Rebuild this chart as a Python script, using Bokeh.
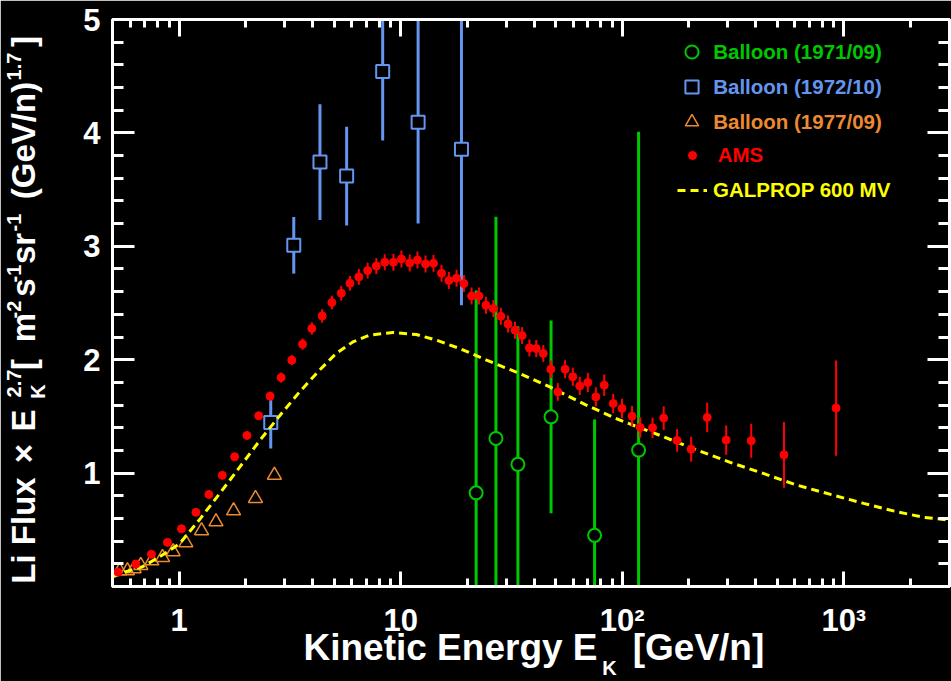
import numpy as np
from bokeh.plotting import figure
from bokeh.models import (Range1d, LogAxis, LinearAxis, FixedTicker, LinearScale,
                          Legend, LegendItem)
from bokeh.embed import file_html
from bokeh.resources import INLINE

# ---------------- data ----------------
ams_e = [0.53, 0.637, 0.749, 0.885, 1.024, 1.19, 1.362, 1.565, 1.779, 2.023,
         2.285, 2.572, 2.884, 3.223, 3.603, 3.97, 4.42, 4.89, 5.39, 5.90,
         6.47, 7.09, 7.76, 8.47, 9.27, 10.07, 10.98, 11.9, 12.94, 14.06,
         15.28, 16.49, 17.86, 19.28, 20.89, 22.54, 24.25, 26.2, 28.3, 30.5,
         32.8, 35.3, 38.1, 40.9, 44.0, 47.6, 51.2, 55.2, 59.8, 64.3,
         69.9, 76.0, 82.9, 91.0, 99.7, 110.7, 120.5, 137, 153.8, 176.8,
         204.6, 241.7, 294.5, 382, 537, 923]
ams_v = [0.126, 0.198, 0.284, 0.389, 0.509, 0.654, 0.812, 0.980, 1.144, 1.332,
         1.505, 1.678, 1.843, 1.996, 2.137, 2.275, 2.386, 2.504, 2.586, 2.674,
         2.730, 2.786, 2.826, 2.859, 2.859, 2.888, 2.853, 2.879, 2.844, 2.850,
         2.762, 2.698, 2.718, 2.671, 2.562, 2.562, 2.480, 2.451, 2.383, 2.315,
         2.260, 2.213, 2.104, 2.098, 2.055, 1.916, 1.716, 1.916, 1.849, 1.769,
         1.799, 1.672, 1.775, 1.614, 1.570, 1.502, 1.403, 1.399, 1.485, 1.288,
         1.211, 1.491, 1.291, 1.285, 1.161, 1.573]
ams_err = [0.010, 0.012, 0.015, 0.015, 0.018, 0.020, 0.022, 0.025, 0.028, 0.030,
           0.035, 0.040, 0.045, 0.045, 0.050, 0.055, 0.060, 0.060, 0.065, 0.065,
           0.070, 0.070, 0.070, 0.070, 0.075, 0.075, 0.075, 0.075, 0.075, 0.075,
           0.075, 0.075, 0.075, 0.075, 0.075, 0.075, 0.075, 0.075, 0.075, 0.075,
           0.075, 0.075, 0.075, 0.075, 0.075, 0.078, 0.078, 0.080, 0.080, 0.080,
           0.085, 0.085, 0.095, 0.085, 0.085, 0.090, 0.090, 0.090, 0.105, 0.100,
           0.110, 0.130, 0.130, 0.150, 0.290, 0.420]

b71_e = [21.9, 26.9, 33.8, 47.7, 75.0, 118.5]
b71_v = [0.826, 1.306, 1.077, 1.496, 0.451, 1.203]
b71_err = [1.784, 1.954, 1.218, 0.850, 1.022, 2.807]

b72_e = [2.59, 3.29, 4.32, 5.70, 8.29, 11.98, 18.8]
b72_v = [1.447, 3.009, 3.743, 3.619, 4.542, 4.095, 3.855]
b72_err = [0.23, 0.25, 0.51, 0.436, 0.608, 0.895, 1.375]

b77_e = [0.539, 0.584, 0.626, 0.671, 0.752, 0.841, 0.939, 1.072, 1.262, 1.466,
         1.76, 2.21, 2.69]
b77_v = [0.139, 0.139, 0.157, 0.186, 0.227, 0.257, 0.307, 0.386, 0.492, 0.571,
         0.668, 0.777, 0.982]

gal_e = [0.5, 0.574, 0.683, 0.812, 1.0, 1.231, 1.516, 1.868, 2.299, 2.831,
         3.486, 4.293, 5.11, 6.08, 7.23, 9.23, 11.78, 14.5, 18.45, 24.4,
         34.5, 47.1, 68.8, 97.6, 153.8, 217.7, 307, 433, 614, 871,
         1228, 1738, 2300, 3000]
gal_v = [0.084, 0.130, 0.174, 0.260, 0.374, 0.586, 0.815, 1.048, 1.282, 1.502,
         1.714, 1.907, 2.055, 2.157, 2.216, 2.240, 2.222, 2.172, 2.099, 1.996,
         1.878, 1.760, 1.599, 1.467, 1.320, 1.203, 1.094, 0.997, 0.894, 0.812,
         0.733, 0.659, 0.610, 0.586]

x_major = [1, 10, 100, 1000]
x_labels = ["1", "10", "10\u00b2", "10\u00b3"]
y_major = [1, 2, 3, 4, 5]

legend_labels = ["Balloon (1971/09)", "Balloon (1972/10)", "Balloon (1977/09)",
                 "AMS", "GALPROP 600 MV"]

# axis-title pieces: (text, centre position in px along the frame edge)
ytitle_main = [("Li Flux", 56), ("\u00d7", 133), ("E", 166), ("[", 222),
               ("m", 259), ("s", 299), ("sr", 338), ("(GeV/n)", 446), ("]", 545)]
ytitle_sup = [("2.7", 203), ("-2", 277), ("-1", 313), ("-1", 364), ("1.7", 520)]
ytitle_sub = [("K", 195)]
xtitle_main = [("Kinetic Energy E", 338), ("[GeV/n]", 586)]
xtitle_sub = [("K", 497)]

# ---------------- styling ----------------
FONT = "Liberation Sans"
GREEN = "#00c800"
BLUE = "#6496f0"
ORANGE = "#eb8a32"
RED = "#ff0000"
YELLOW = "#ffff00"

p = figure(width=951, height=681, x_axis_type="log",
           x_range=Range1d(0.5, 3000), y_range=Range1d(0, 5),
           output_backend="svg", toolbar_location=None,
           min_border_left=112, min_border_right=2, min_border_top=19,
           min_border_bottom=95,
           background_fill_color="black", border_fill_color="black",
           outline_line_color="white", outline_line_width=3)
p.grid.visible = False
p.extra_y_ranges = {"lab": Range1d(0, 567)}
p.extra_x_ranges = {"labx": Range1d(0, 837)}
p.extra_x_scales = {"labx": LinearScale()}

x_minor = [m * 10.0 ** k for k in range(-1, 4) for m in range(2, 10)
           if 0.5 <= m * 10.0 ** k <= 3000]
y_minor = [round(0.2 * i, 1) for i in range(1, 25) if i % 5 != 0]


def style_axis(ax, major_in, minor_in, labels):
    ax.axis_line_color = "white"
    ax.axis_line_width = 3
    ax.major_tick_line_color = "white"
    ax.major_tick_line_width = 3
    ax.minor_tick_line_color = "white"
    ax.minor_tick_line_width = 3
    ax.major_tick_in = major_in
    ax.major_tick_out = 0
    ax.minor_tick_in = minor_in
    ax.minor_tick_out = 0
    if labels:
        ax.major_label_text_color = "white"
        ax.major_label_text_font = FONT
        ax.major_label_text_font_style = "bold"
        ax.major_label_text_font_size = "31px"
    else:
        ax.major_label_text_font_size = "1px"
        ax.major_label_text_alpha = 0
        ax.major_label_standoff = 0


xb = p.xaxis[0]
xb.ticker = FixedTicker(ticks=x_major, minor_ticks=x_minor)
xb.major_label_overrides = dict(zip(x_major, x_labels))
style_axis(xb, 15, 8, True)
xb.major_label_standoff = 16

yl = p.yaxis[0]
yl.ticker = FixedTicker(ticks=y_major, minor_ticks=y_minor)
style_axis(yl, 22, 11, True)
yl.major_label_standoff = 12

xt = LogAxis(ticker=FixedTicker(ticks=x_major, minor_ticks=x_minor))
style_axis(xt, 17, 8, False)
p.add_layout(xt, "above")

yr = LinearAxis(ticker=FixedTicker(ticks=y_major, minor_ticks=y_minor))
style_axis(yr, 22, 11, False)
p.add_layout(yr, "right")


# axis titles: label-only axes (tick labels = text pieces, no lines/ticks)
def title_axis(pieces, side, size, standoff, style="bold"):
    pos = [c for _, c in pieces]
    kw = dict(ticker=FixedTicker(ticks=pos, minor_ticks=[]),
              major_label_overrides={c: t for t, c in pieces})
    if side == "left":
        ax = LinearAxis(y_range_name="lab", major_label_orientation="parallel", **kw)
    else:
        ax = LinearAxis(x_range_name="labx", major_label_orientation="horizontal", **kw)
    ax.axis_line_color = None
    ax.major_tick_line_color = None
    ax.minor_tick_line_color = None
    ax.major_tick_in = ax.major_tick_out = 0
    ax.minor_tick_in = ax.minor_tick_out = 0
    ax.major_label_standoff = standoff
    ax.major_label_text_color = "white"
    ax.major_label_text_font = FONT
    ax.major_label_text_font_style = style
    ax.major_label_text_font_size = f"{size}px"
    p.add_layout(ax, side)


title_axis(ytitle_sub, "left", 20, 32)
title_axis(ytitle_main, "left", 33, -18)
title_axis(ytitle_sup, "left", 20, -19)
title_axis(xtitle_main, "below", 37, -14)
title_axis(xtitle_sub, "below", 20, -14)

# ---------------- data renderers ----------------
e72, v72, s72 = map(np.array, (b72_e, b72_v, b72_err))
p.segment(x0=e72, y0=v72 - s72, x1=e72, y1=v72 + s72, line_color=BLUE, line_width=3)
r72 = p.scatter(e72, v72, marker="square", size=13, line_color=BLUE,
                line_width=2, fill_color="black")

e71, v71, s71 = map(np.array, (b71_e, b71_v, b71_err))
p.segment(x0=e71, y0=v71 - s71, x1=e71, y1=v71 + s71, line_color=GREEN, line_width=3)
r71 = p.scatter(e71, v71, marker="circle", size=13, line_color=GREEN,
                line_width=2, fill_color="black")

r77 = p.scatter(b77_e, b77_v, marker="triangle", size=14, line_color=ORANGE,
                line_width=1.5, fill_color=None)

rgal = p.line(gal_e, gal_v, line_color=YELLOW, line_width=3, line_dash="8 5")

ea, va, sa = map(np.array, (ams_e, ams_v, ams_err))
p.segment(x0=ea, y0=va - sa, x1=ea, y1=va + sa, line_color=RED, line_width=2)
rams = p.scatter(ea, va, marker="circle", size=8, line_color=RED, fill_color=RED)

# ---------------- legends (one per entry, own text colour) ----------------
FL, FB = 112, 586   # frame left / bottom in page pixels


def add_legend(label, rend, color, cx, cy, gw, gh, text_x):
    gx = cx - FL - gw / 2.0
    gy = FB - cy - gh / 2.0
    leg = Legend(items=[LegendItem(label=label, renderers=[rend])],
                 location=(gx, gy), glyph_width=gw, glyph_height=gh,
                 label_height=gh, label_width=10,
                 label_standoff=int(round((text_x - FL) - (gx + gw))),
                 padding=0, margin=0, spacing=0,
                 border_line_color=None, background_fill_alpha=0,
                 label_text_color=color, label_text_font=FONT,
                 label_text_font_style="bold", label_text_font_size="20.5px")
    p.add_layout(leg)


add_legend(legend_labels[0], r71, GREEN, 691.7, 51.7, 33, 33, 713)
add_legend(legend_labels[1], r72, BLUE, 691.7, 86.7, 33, 33, 713)
add_legend(legend_labels[2], r77, ORANGE, 691.7, 121.7, 33, 33, 713)
add_legend(legend_labels[3], rams, RED, 691.7, 156.7, 20, 20, 717.3)
add_legend(legend_labels[4], rgal, YELLOW, 692, 191.7, 30, 20, 713)

open("out.html", "w").write(file_html(p, INLINE))
